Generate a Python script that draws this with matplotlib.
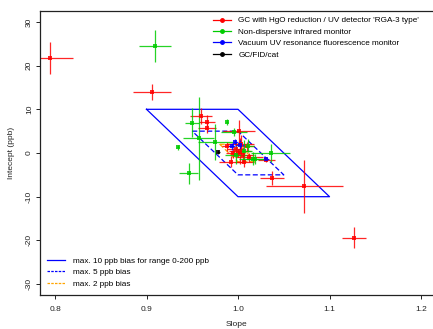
import matplotlib
matplotlib.use("Agg")
import matplotlib.pyplot as plt
from matplotlib.lines import Line2D

plt.rcParams['font.family'] = ['Liberation Sans', 'DejaVu Sans']

# GC with HgO reduction / UV detector (slope, intercept, slope err, intercept err)
red_s = [0.794, 0.906, 0.960, 0.966, 0.966, 1.001, 1.002, 0.992, 1.031, 1.037, 1.0725, 1.127,
         0.998, 1.005, 1.010, 0.995, 1.012, 1.003, 0.988, 1.007, 1.000]
red_i = [21.7, 14.0, 8.5, 7.2, 5.8, 5.0, 0.5, -2.0, -1.5, -5.7, -7.6, -19.4,
         1.0, -0.5, 1.5, 0.0, -1.0, 2.0, 1.5, -2.1, 0.0]
red_xe = [0.026, 0.021, 0.012, 0.009, 0.010, 0.0175, 0.012, 0.013, 0.009, 0.0135, 0.042, 0.013,
          0.010, 0.012, 0.008, 0.008, 0.015, 0.015, 0.006, 0.010, 0.008]
red_ye = [3.7, 1.9, 1.9, 1.5, 1.2, 2.6, 3.0, 1.2, 0.6, 1.6, 6.1, 2.4,
          1.5, 1.8, 1.0, 1.2, 1.0, 2.2, 1.0, 1.0, 1.0]

# Non-dispersive infrared monitor
grn_s = [0.909, 0.946, 0.957, 0.950, 0.975, 0.934, 0.988, 1.0357, 1.0167, 0.9956, 1.0113, 1.0186, 0.998, 1.007]
grn_i = [24.5, -4.6, 3.4, 6.9, 2.5, 1.3, 7.1, 0.0, -1.3, 4.8, 1.7, -1.4, -0.5, 0.5]
grn_xe = [0.0173, 0.0104, 0.017, 0.0075, 0.019, 0.001, 0.001, 0.0213, 0.016, 0.0137, 0.006, 0.010, 0.012, 0.008]
grn_ye = [3.7, 2.4, 9.5, 3.3, 4.1, 0.5, 0.6, 2.0, 1.5, 0.9, 1.5, 1.2, 2.0, 2.5]

# Vacuum UV resonance fluorescence monitor
blu_s = [0.993, 1.002, 0.997, 1.031]
blu_i = [1.5, 1.9, 2.6, -1.4]
blu_xe = [0.004, 0.005, 0.003, 0.003]
blu_ye = [0.8, 1.0, 0.6, 0.5]

# GC/FID/cat
blk_s = [0.9785]
blk_i = [0.2]
blk_xe = [0.002]
blk_ye = [0.5]

# bias envelopes (slope, intercept corners)
b10_s = [0.9, 1.0, 1.1, 1.0, 0.9]
b10_i = [10, 10, -10, -10, 10]
b5_s = [0.95, 1.0, 1.05, 1.0, 0.95]
b5_i = [5, 5, -5, -5, 5]
b2_s = [0.98, 1.0, 1.02, 1.0, 0.98]
b2_i = [2, 2, -2, -2, 2]

fig = plt.figure(figsize=(4.33, 3.29), dpi=100)
ax = fig.add_axes([40 / 433, 1 - 295 / 329, 1 - 40 / 433, (295 - 11) / 329])

ax.plot(b10_s, b10_i, color='blue', lw=0.9)
ax.plot(b5_s, b5_i, color='blue', lw=0.9, ls=(0, (4, 2)))
ax.plot(b2_s, b2_i, color='orange', lw=0.9, ls=(0, (4, 2)))

groups = [
    (red_s, red_i, red_xe, red_ye, 'red'),
    (grn_s, grn_i, grn_xe, grn_ye, '#00cc00'),
    (blu_s, blu_i, blu_xe, blu_ye, 'blue'),
    (blk_s, blk_i, blk_xe, blk_ye, 'black'),
]
for s, i, xe, ye, c in groups:
    ax.errorbar(s, i, xerr=xe, yerr=ye, fmt='s', color=c, ms=3.3, mew=0,
                elinewidth=0.9, capsize=2.8, capthick=0.9, alpha=0.85)

ax.set_xlim(0.7836, 1.2131)
ax.set_ylim(-32.5, 32.5)
ax.set_xticks([0.8, 0.9, 1.0, 1.1, 1.2])
ax.set_yticks([-30, -20, -10, 0, 10, 20, 30])
ax.set_xticklabels(['0.8', '0.9', '1.0', '1.1', '1.2'])
ax.set_yticklabels(['-30', '-20', '-10', '0', '10', '20', '30'], rotation=90, va='center')
ax.tick_params(labelsize=6, length=3, width=0.7, colors='#222222', pad=5)
ax.tick_params(axis='y', pad=2)
ax.spines['right'].set_visible(False)
for sp in ['left', 'top', 'bottom']:
    ax.spines[sp].set_linewidth(0.9)
    ax.spines[sp].set_color('#222222')
ax.set_xlabel('Slope', fontsize=6, color='#222222', labelpad=6)
ax.set_ylabel('Intecept (ppb)', fontsize=6, color='#222222', labelpad=8)

h1 = [Line2D([], [], color=c, marker='o', ms=2.5, lw=0.9) for c in ['red', '#00cc00', 'blue', 'black']]
leg1 = ax.legend(h1, ["GC with HgO reduction / UV detector 'RGA-3 type'",
                      'Non-dispersive infrared monitor',
                      'Vacuum UV resonance fluorescence monitor',
                      'GC/FID/cat'],
                 loc='upper left', bbox_to_anchor=(0.425, 1.0), frameon=False,
                 fontsize=5.9, handlelength=2.2, handletextpad=0.9, labelspacing=0.45,
                 borderaxespad=0.3)
ax.add_artist(leg1)
h2 = [Line2D([], [], color='blue', lw=0.9),
      Line2D([], [], color='blue', lw=0.9, ls=(0, (2, 1))),
      Line2D([], [], color='orange', lw=0.9, ls=(0, (2, 1)))]
ax.legend(h2, ['max. 10 ppb bias for range 0-200 ppb', 'max. 5 ppb bias', 'max. 2 ppb bias'],
          loc='lower left', frameon=False, fontsize=5.9, handlelength=2.2,
          handletextpad=0.9, labelspacing=0.45, borderaxespad=0.5)

fig.savefig('out.png', dpi=100)
